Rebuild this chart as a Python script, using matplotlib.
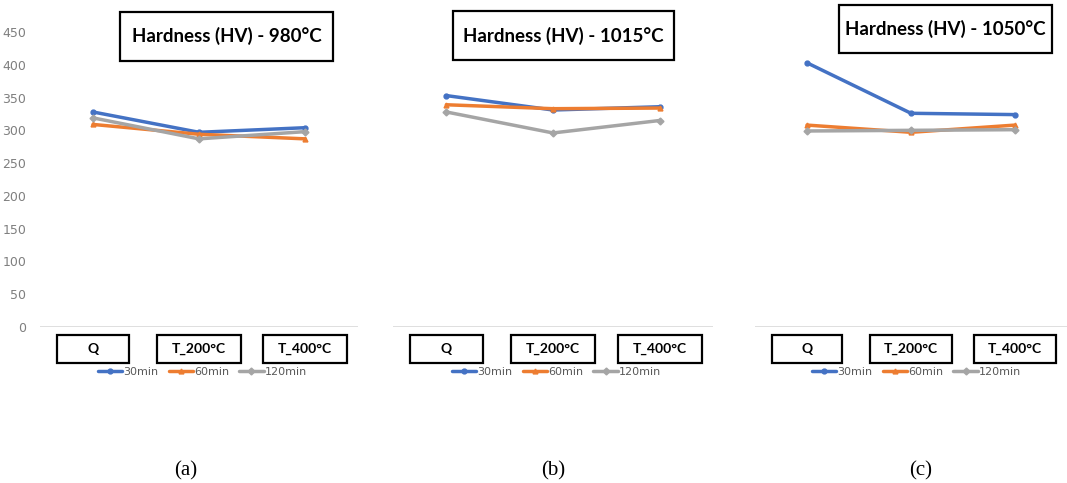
import matplotlib
matplotlib.use("Agg")
import matplotlib.pyplot as plt
from matplotlib.patches import Rectangle
from matplotlib.transforms import blended_transform_factory

categories = ["Q", "T_200°C", "T_400°C"]
series_names = ["30min", "60min", "120min"]
titles = ["Hardness (HV) - 980°C", "Hardness (HV) - 1015°C", "Hardness (HV) - 1050°C"]
panel_labels = ["(a)", "(b)", "(c)"]

# values per panel: [30min, 60min, 120min]
hv_980_30 = [328, 297, 304]
hv_980_60 = [309, 294, 287]
hv_980_120 = [319, 287, 298]

hv_1015_30 = [353, 331, 336]
hv_1015_60 = [339, 333, 334]
hv_1015_120 = [328, 296, 315]

hv_1050_30 = [403, 326, 324]
hv_1050_60 = [308, 297, 308]
hv_1050_120 = [299, 300, 301]

yticks = [0, 50, 100, 150, 200, 250, 300, 350, 400, 450]

panels = [
    [hv_980_30, hv_980_60, hv_980_120],
    [hv_1015_30, hv_1015_60, hv_1015_120],
    [hv_1050_30, hv_1050_60, hv_1050_120],
]

colors = ["#4472C4", "#ED7D31", "#A5A5A5"]
markers = ["o", "^", "D"]

W, H = 1067, 483
fig = plt.figure(figsize=(W / 100, H / 100), dpi=100)

ax_px = [(40, 318), (393, 320), (755, 312)]
base_px, top_px = 327, 32
title_boxes = [(0.252, 0.902, 0.669, 0.166), (0.1875, 0.905, 0.69, 0.166), (0.269, 0.929, 0.683, 0.163)]
legend_x = [0.511, 0.511, 0.518]
label_x = [186, 553, 921]

narrow = ["Liberation Sans Narrow", "DejaVu Sans"]
boldfont = ["Lato", "DejaVu Sans"]

for i, (left, width) in enumerate(ax_px):
    ax = fig.add_axes([left / W, 1 - base_px / H, width / W, (base_px - top_px) / H])
    x = list(range(len(categories)))
    for s, vals in enumerate(panels[i]):
        ax.plot(x, vals, color=colors[s], lw=2.5, marker=markers[s], ms=3.5,
                label=series_names[s], solid_capstyle="round")
    ax.set_xlim(-0.5, len(categories) - 0.5)
    ax.set_ylim(0, 450)
    for sp in ax.spines.values():
        sp.set_visible(False)
    ax.axhline(0, color="#D9D9D9", lw=1.2, zorder=0)
    ax.set_xticks([])
    if i == 0:
        ax.set_yticks(yticks)
        ax.set_yticklabels([str(t) for t in yticks], family=narrow, fontsize=9, color="#7F7F7F")
        ax.tick_params(axis="y", length=0, pad=10)
    else:
        ax.set_yticks([])

    # category boxes
    tr = blended_transform_factory(ax.transData, ax.transAxes)
    for c, name in enumerate(categories):
        bw = 0.68 if c == 0 else 0.79
        ax.add_patch(Rectangle((c - bw / 2, -0.122), bw, 0.095, transform=tr, fill=False,
                               ec="black", lw=1.6, clip_on=False))
        ax.text(c, -0.0745, name, transform=tr, ha="center", va="center",
                fontsize=10, fontweight="bold", family=boldfont)

    # title box
    bx, by, bw, bh = title_boxes[i]
    ax.add_patch(Rectangle((bx, by), bw, bh, transform=ax.transAxes, fill=False,
                           ec="black", lw=1.6, clip_on=False))
    ax.text(bx + bw / 2, by + bh / 2, titles[i], transform=ax.transAxes, ha="center",
            va="center", fontsize=13.5, fontweight="bold", family=boldfont)

    leg = ax.legend(loc="center", bbox_to_anchor=(legend_x[i], -0.1525), ncol=3, frameon=False,
                    prop={"family": narrow, "size": 8}, handlelength=2.2, handletextpad=0.1,
                    columnspacing=0.9, borderaxespad=0)
    for t in leg.get_texts():
        t.set_color("#595959")

    fig.text(label_x[i] / W, 1 - 471 / H, panel_labels[i], ha="center", va="center",
             fontsize=15, family=["Liberation Serif", "DejaVu Serif"])

fig.savefig("out.png", dpi=100)
